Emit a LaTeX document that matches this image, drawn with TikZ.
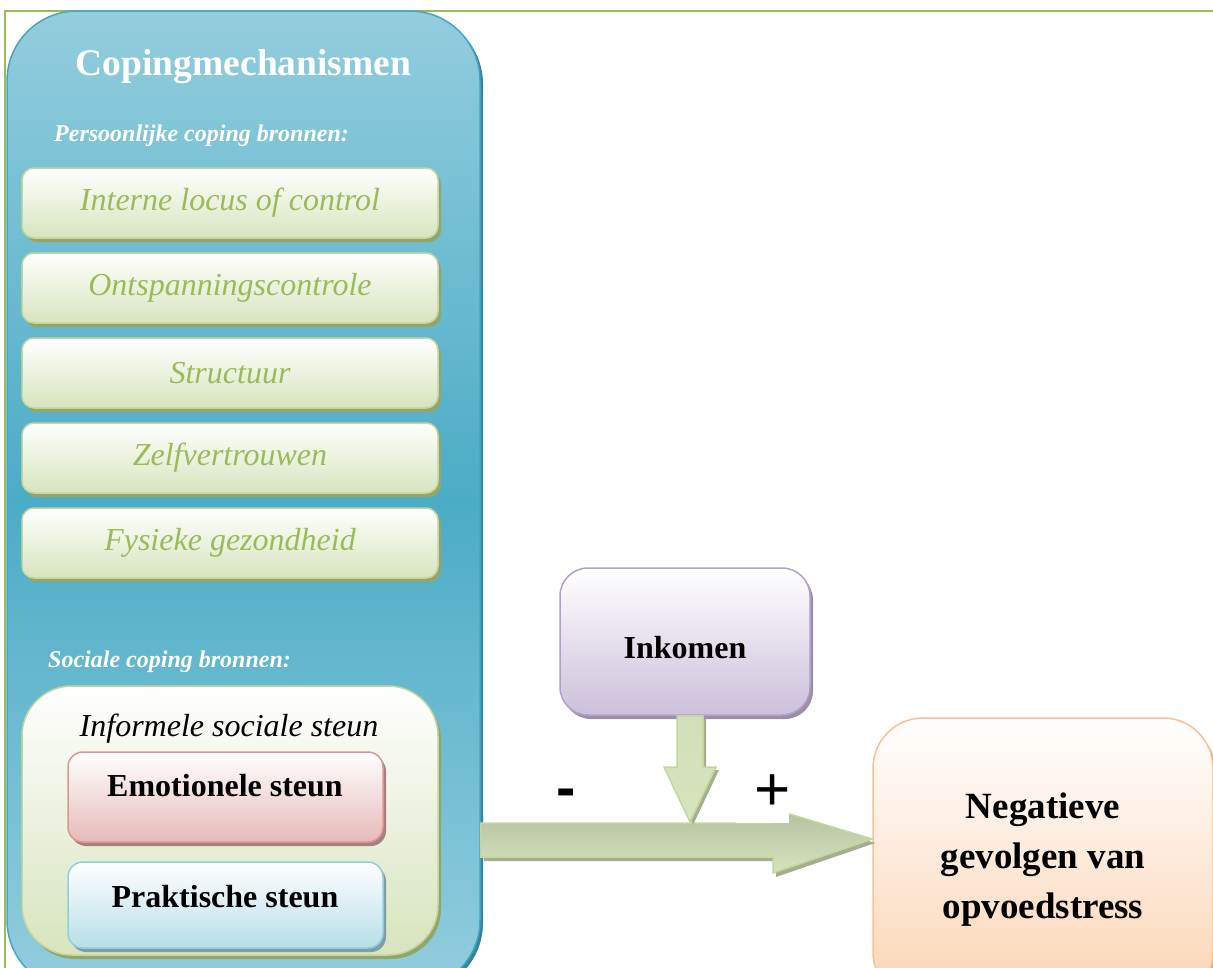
\documentclass[tikz,border=0pt]{standalone}
\usepackage{fontspec}
\setmainfont{Liberation Serif}
\newfontfamily\arialfont{Liberation Sans}
\usetikzlibrary{shadows}

\definecolor{framecol}{HTML}{9BBB59}
\definecolor{copingtop}{HTML}{93CDDD}
\definecolor{copingmid}{HTML}{4BACC6}
\definecolor{copingedge}{HTML}{46A5C0}
\definecolor{copingshadow}{HTML}{31859C}
\definecolor{greenbot}{HTML}{D7E4BD}
\definecolor{greenedge}{HTML}{C3D69B}
\definecolor{greenshadow}{HTML}{93A56B}
\definecolor{greentext}{HTML}{9BBB59}
\definecolor{redbot}{HTML}{E6B9B8}
\definecolor{rededge}{HTML}{D99694}
\definecolor{redshadow}{HTML}{A5807F}
\definecolor{bluebot}{HTML}{B7DEE8}
\definecolor{blueedge}{HTML}{92CDDC}
\definecolor{blueshadow}{HTML}{7F9FA6}
\definecolor{purplebot}{HTML}{CCC0DA}
\definecolor{purpleedge}{HTML}{B2A1C7}
\definecolor{purpleshadow}{HTML}{9A8FA6}
\definecolor{orangebot}{HTML}{FBD4B4}
\definecolor{orangeedge}{HTML}{FAC090}
\definecolor{orangeshadow}{HTML}{C9AD94}
\definecolor{arrowtop}{HTML}{B5BFA0}
\definecolor{arrowshadow}{HTML}{A6AE92}

\begin{document}
\begin{tikzpicture}[x=1pt,y=-1pt,node distance=85pt]
  \tikzstyle{every node}=[inner sep=0pt]
  \tikzstyle{copingbox}=[draw=copingedge,line width=1.5pt,rounded corners=70pt,top color=copingtop,bottom color=copingtop,middle color=copingmid,drop shadow={shadow xshift=3pt,shadow yshift=-3pt,opacity=1,fill=copingshadow}]
  \tikzstyle{greenbox}=[draw=greenedge,line width=1.5pt,rounded corners=12pt,top color=white,bottom color=greenbot,minimum width=416pt,minimum height=70pt,drop shadow={shadow xshift=3pt,shadow yshift=-4pt,opacity=1,fill=greenshadow},text=greentext,font=\fontsize{32}{38}\selectfont\itshape]
  \tikzstyle{informbox}=[draw=greenedge,line width=1.5pt,rounded corners=50pt,top color=white,bottom color=greenbot,drop shadow={shadow xshift=3pt,shadow yshift=-4pt,opacity=1,fill=greenshadow}]
  \tikzstyle{redbox}=[draw=rededge,line width=1.5pt,rounded corners=15pt,top color=white,bottom color=redbot,drop shadow={shadow xshift=3pt,shadow yshift=-4pt,opacity=1,fill=redshadow}]
  \tikzstyle{bluebox}=[draw=blueedge,line width=1.5pt,rounded corners=15pt,top color=white,bottom color=bluebot,drop shadow={shadow xshift=3pt,shadow yshift=-4pt,opacity=1,fill=blueshadow}]
  \tikzstyle{purplebox}=[draw=purpleedge,line width=1.5pt,rounded corners=28pt,top color=white,bottom color=purplebot,drop shadow={shadow xshift=3pt,shadow yshift=-4pt,opacity=1,fill=purpleshadow}]
  \tikzstyle{orangebox}=[draw=orangeedge,line width=1.5pt,rounded corners=50pt,top color=white,bottom color=orangebot,drop shadow={shadow xshift=3pt,shadow yshift=-4pt,opacity=1,fill=orangeshadow}]
  \tikzstyle{bigarrow}=[draw=greenedge,line width=1.5pt,top color=arrowtop,bottom color=greenbot,drop shadow={shadow xshift=3pt,shadow yshift=-4pt,opacity=1,fill=arrowshadow}]
  \tikzstyle{downarrow}=[draw=greenedge,line width=1.5pt,top color=greenbot!85!arrowtop,bottom color=greenbot,drop shadow={shadow xshift=3pt,shadow yshift=-3pt,opacity=1,fill=arrowshadow}]
  \tikzstyle{boldtext}=[font=\fontsize{32}{38}\selectfont\bfseries]
  \tikzstyle{headtext}=[text=white,font=\fontsize{24}{29}\selectfont\bfseries\itshape]

  \useasboundingbox (0,0) rectangle (1213,967);
  \clip (0,0) rectangle (1213,967);

  % frame
  \draw[framecol,line width=1.5pt] (5,990) -- (5,11) -- (1230,11);

  % coping mechanisms
  \node[copingbox,minimum width=473pt,minimum height=979pt] (coping) at (243.5,500.5) {};
  \node[text=white,font=\fontsize{37.5}{44}\selectfont\bfseries] (title) at (243.5,67) {Copingmechanismen};
  \node[headtext,anchor=west] (pers) at (54,136) {Persoonlijke coping bronnen:};

  \node[greenbox]                  (locus)  at (230,203) {Interne locus of control};
  \node[greenbox] [below of=locus] (ontsp)  {Ontspanningscontrole};
  \node[greenbox] [below of=ontsp] (struct) {Structuur};
  \node[greenbox] [below of=struct](zelf)   {Zelfvertrouwen};
  \node[greenbox] [below of=zelf]  (fys)    {Fysieke gezondheid};

  \node[headtext,anchor=west] (soc) at (48,662) {Sociale coping bronnen:};
  \node[informbox,minimum width=416pt,minimum height=269pt] (inform) at (230,820.5) {};
  \node[font=\fontsize{32}{38}\selectfont\itshape] (informtext) at (229,729) {Informele sociale steun};
  \node[redbox,minimum width=315pt,minimum height=90pt] (emo) at (225.5,797) {};
  \node[boldtext] (emotext) at (225,786) {Emotionele steun};
  \node[bluebox,minimum width=315pt,minimum height=86pt] (prakt) at (225.5,905) {};
  \node[boldtext] (prakttext) at (225,897) {Praktische steun};

  % inkomen and outcome
  \node[purplebox,minimum width=250pt,minimum height=147pt] (inc) at (685,641.5) {};
  \node[boldtext] (inctext) at (685,648) {Inkomen};
  \node[orangebox,minimum width=340pt,minimum height=284pt,align=center,font=\fontsize{37}{50}\selectfont\bfseries] (neg) at (1043,860) {Negatieve\\gevolgen van\\opvoedstress};

  % arrows
  \path[bigarrow] (coping.east |- 0,823) -- (773,823) -- (773,809) -- (neg.west |- 0,839)
    -- (773,873) -- (773,857) -- (coping.east |- 0,857) -- cycle;
  \path[downarrow] (677,0 |- inc.south) -- (703,0 |- inc.south) -- (703,767) -- (716,767)
    -- (690,822) -- (664,767) -- (677,767) -- cycle;

  \node[fill=white,minimum width=53pt,minimum height=53pt] (plusbg) at (762.5,796.5) {};
  \node[font=\fontsize{62}{66}\selectfont\arialfont] (plus) at (773,793) {+};
  \node[font=\fontsize{58}{60}\selectfont\arialfont\bfseries] (minus) at (566,798) {-};
\end{tikzpicture}
\end{document}
